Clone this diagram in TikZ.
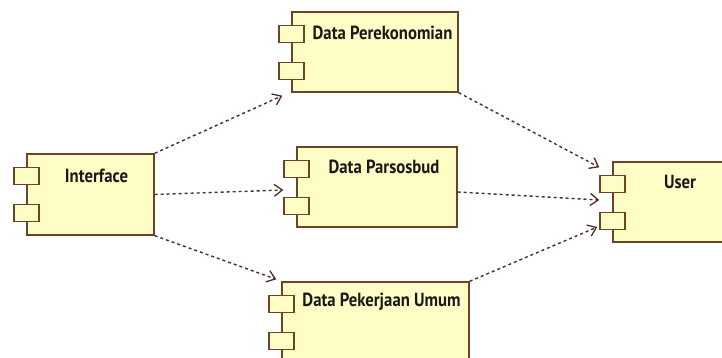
\documentclass[tikz,border=0pt]{standalone}
\usepackage{fontspec}
\setmainfont[FakeStretch=0.88]{PT Sans}
\usetikzlibrary{arrows.meta,calc}
\definecolor{compfill}{HTML}{FFFDC6}
\definecolor{compline}{HTML}{6A4424}
\definecolor{deplink}{HTML}{4E2A2A}
\begin{document}
\begin{tikzpicture}[x=1pt,y=-1pt,
  comp/.style={draw=compline,fill=compfill,line width=1.4pt,rectangle,inner sep=0pt},
  port/.style={draw=compline,fill=compfill,line width=1.4pt,rectangle,inner sep=0pt,
    minimum width=25pt,minimum height=17pt},
  title/.style={font=\bfseries\fontsize{19}{22}\selectfont,text=black!90,inner sep=0pt},
  dep/.style={draw=deplink,line width=1.4pt,dash pattern=on 3pt off 3pt,
    -{Straight Barb[length=8pt,width=12pt,line width=1.3pt]}}]
\useasboundingbox (0,0) rectangle (722,358);
\fill[white] (0,0) rectangle (722,358);

% component boxes
\node[comp,minimum width=127pt,minimum height=81pt] (iface)  at (90.5,194.5) {};
\node[comp,minimum width=166pt,minimum height=80pt] (perek)  at (375,52) {};
\node[comp,minimum width=160pt,minimum height=80pt] (parsos) at (377,187) {};
\node[comp,minimum width=187pt,minimum height=80pt] (pekerj) at (375.5,322) {};
\node[comp,minimum width=120pt,minimum height=80pt] (user)   at (673,202) {};

% component ports on the left edges
\foreach \c in {iface,perek,parsos,pekerj,user}{
  \node[port] (\c-p1) at ($(\c.north west)+(0,22.5)$) {};
  \node[port] (\c-p2) at ($(\c.north west)+(0,59.5)$) {};
}

% titles
\node[title] (t-iface)  at (96.5,176) {Interface};
\node[title] (t-perek)  at (382.5,33) {Data Perekonomian};
\node[title] (t-parsos) at (384,167) {Data Parsosbud};
\node[title] (t-pekerj) at (381.5,302) {Data Pekerjaan Umum};
\node[title] (t-user)   at (680,182) {User};

% dependencies
\draw[dep] (iface.north east) -- ($(perek.south west)+(-9,3)$);
\draw[dep] (iface.east) -- ($(parsos.west)+(-13,3)$);
\draw[dep] (iface.south east) -- ($(pekerj.north west)+(-5,-2)$);
\draw[dep] (perek.south east) -- ($(user.north west)+(-13,6)$);
\draw[dep] ($(parsos.east)+(0,5)$) -- ($(user.west)+(-13,-2)$);
\draw[dep] (pekerj.north east) -- ($(user.west)+(-15,25)$);
\end{tikzpicture}
\end{document}
